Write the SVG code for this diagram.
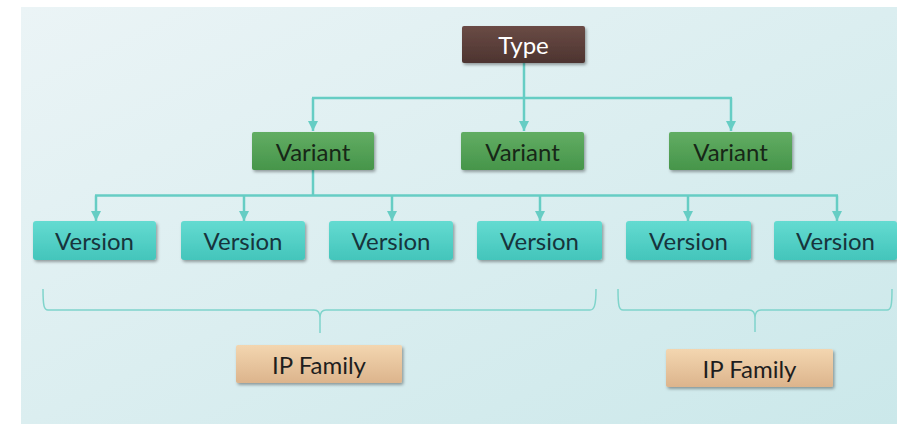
<svg xmlns="http://www.w3.org/2000/svg" width="897" height="424" viewBox="0 0 897 424">
<defs>
<linearGradient id="bg" x1="0" y1="0" x2="1" y2="1">
<stop offset="0" stop-color="#ebf4f6"/>
<stop offset="1" stop-color="#cbe8ea"/>
</linearGradient>
<linearGradient id="gType" x1="0" y1="0" x2="0" y2="1">
<stop offset="0" stop-color="#6a4b45"/>
<stop offset="1" stop-color="#4d3430"/>
</linearGradient>
<linearGradient id="gVar" x1="0" y1="0" x2="0" y2="1">
<stop offset="0" stop-color="#62ad63"/>
<stop offset="1" stop-color="#46954a"/>
</linearGradient>
<linearGradient id="gVer" x1="0" y1="0" x2="0" y2="1">
<stop offset="0" stop-color="#64dbd1"/>
<stop offset="1" stop-color="#43c5bb"/>
</linearGradient>
<linearGradient id="gIP" x1="0" y1="0" x2="0" y2="1">
<stop offset="0" stop-color="#f3d6b0"/>
<stop offset="1" stop-color="#dcb48c"/>
</linearGradient>
<filter id="sh" x="-10%" y="-20%" width="125%" height="150%">
<feDropShadow dx="1.5" dy="2" stdDeviation="1.5" flood-color="#000" flood-opacity="0.35"/>
</filter>
<marker id="arr" viewBox="0 0 10 10" refX="10" refY="5" markerWidth="10" markerHeight="11" markerUnits="userSpaceOnUse" orient="auto">
<path d="M0 0 L10 5 L0 10 z" fill="#66cdc4"/>
</marker>
</defs>
<style>
.box{filter:url(#sh);}
.lbl{font-family:Lato,"Noto Sans","DejaVu Sans",sans-serif;font-size:24px;text-anchor:middle;dominant-baseline:central;}
.conn{fill:none;stroke:#66cdc4;stroke-width:2.5;}
.brace{fill:none;stroke:#7fd4cb;stroke-width:1.5;}
</style>
<rect x="21" y="7" width="876" height="417" fill="url(#bg)"/>
<g id="connectors">
<path class="conn" d="M524 63 V98"/>
<path class="conn" d="M312 98 H732"/>
<path class="conn" d="M313 98 V131" marker-end="url(#arr)"/>
<path class="conn" d="M524 98 V131" marker-end="url(#arr)"/>
<path class="conn" d="M731 98 V131" marker-end="url(#arr)"/>
<path class="conn" d="M313 170 V195.5"/>
<path class="conn" d="M95 195.5 H838"/>
<path class="conn" d="M96 195.5 V221" marker-end="url(#arr)"/>
<path class="conn" d="M244 195.5 V221" marker-end="url(#arr)"/>
<path class="conn" d="M392 195.5 V221" marker-end="url(#arr)"/>
<path class="conn" d="M540 195.5 V221" marker-end="url(#arr)"/>
<path class="conn" d="M688 195.5 V221" marker-end="url(#arr)"/>
<path class="conn" d="M837 195.5 V221" marker-end="url(#arr)"/>
<path class="brace" d="M43 289 C43 306 44 310 48 310 H314 C318 310 320 312 320 318 V333 M320 318 C320 312 322 310 326 310 H590 C594 310 596 306 596 289"/>
<path class="brace" d="M618 289 C618 306 619 310 623 310 H749 C753 310 755 312 755 318 V332 M755 318 C755 312 757 310 761 310 H887 C891 310 892 306 892 289"/>
</g>
<g id="type">
<rect class="box" x="462" y="26" width="123" height="37" rx="2" fill="url(#gType)"/>
<text class="lbl" x="523.5" y="44.5" fill="#ffffff">Type</text>
</g>
<g id="variant1">
<rect class="box" x="252" y="132" width="122" height="38" rx="2" fill="url(#gVar)"/>
<text class="lbl" x="313" y="151" fill="#172717">Variant</text>
</g>
<g id="variant2">
<rect class="box" x="461" y="132" width="123" height="38" rx="2" fill="url(#gVar)"/>
<text class="lbl" x="522.5" y="151" fill="#172717">Variant</text>
</g>
<g id="variant3">
<rect class="box" x="669" y="132" width="123" height="38" rx="2" fill="url(#gVar)"/>
<text class="lbl" x="730.5" y="151" fill="#172717">Variant</text>
</g>
<g id="version1">
<rect class="box" x="33" y="221" width="123" height="39" rx="3" fill="url(#gVer)"/>
<text class="lbl" x="94.5" y="240.5" fill="#17343c">Version</text>
</g>
<g id="version2">
<rect class="box" x="181" y="221" width="124" height="39" rx="3" fill="url(#gVer)"/>
<text class="lbl" x="243" y="240.5" fill="#17343c">Version</text>
</g>
<g id="version3">
<rect class="box" x="329" y="221" width="124" height="39" rx="3" fill="url(#gVer)"/>
<text class="lbl" x="391" y="240.5" fill="#17343c">Version</text>
</g>
<g id="version4">
<rect class="box" x="477" y="221" width="125" height="39" rx="3" fill="url(#gVer)"/>
<text class="lbl" x="539.5" y="240.5" fill="#17343c">Version</text>
</g>
<g id="version5">
<rect class="box" x="626" y="221" width="125" height="39" rx="3" fill="url(#gVer)"/>
<text class="lbl" x="688.5" y="240.5" fill="#17343c">Version</text>
</g>
<g id="version6">
<rect class="box" x="774" y="221" width="123" height="39" rx="3" fill="url(#gVer)"/>
<text class="lbl" x="835.5" y="240.5" fill="#17343c">Version</text>
</g>
<g id="ipfamily1">
<rect class="box" x="236" y="345" width="166" height="38" rx="2" fill="url(#gIP)"/>
<text class="lbl" x="319" y="364" fill="#1e1e1e">IP Family</text>
</g>
<g id="ipfamily2">
<rect class="box" x="666" y="349" width="167" height="38" rx="2" fill="url(#gIP)"/>
<text class="lbl" x="749.5" y="368" fill="#1e1e1e">IP Family</text>
</g>
</svg>
